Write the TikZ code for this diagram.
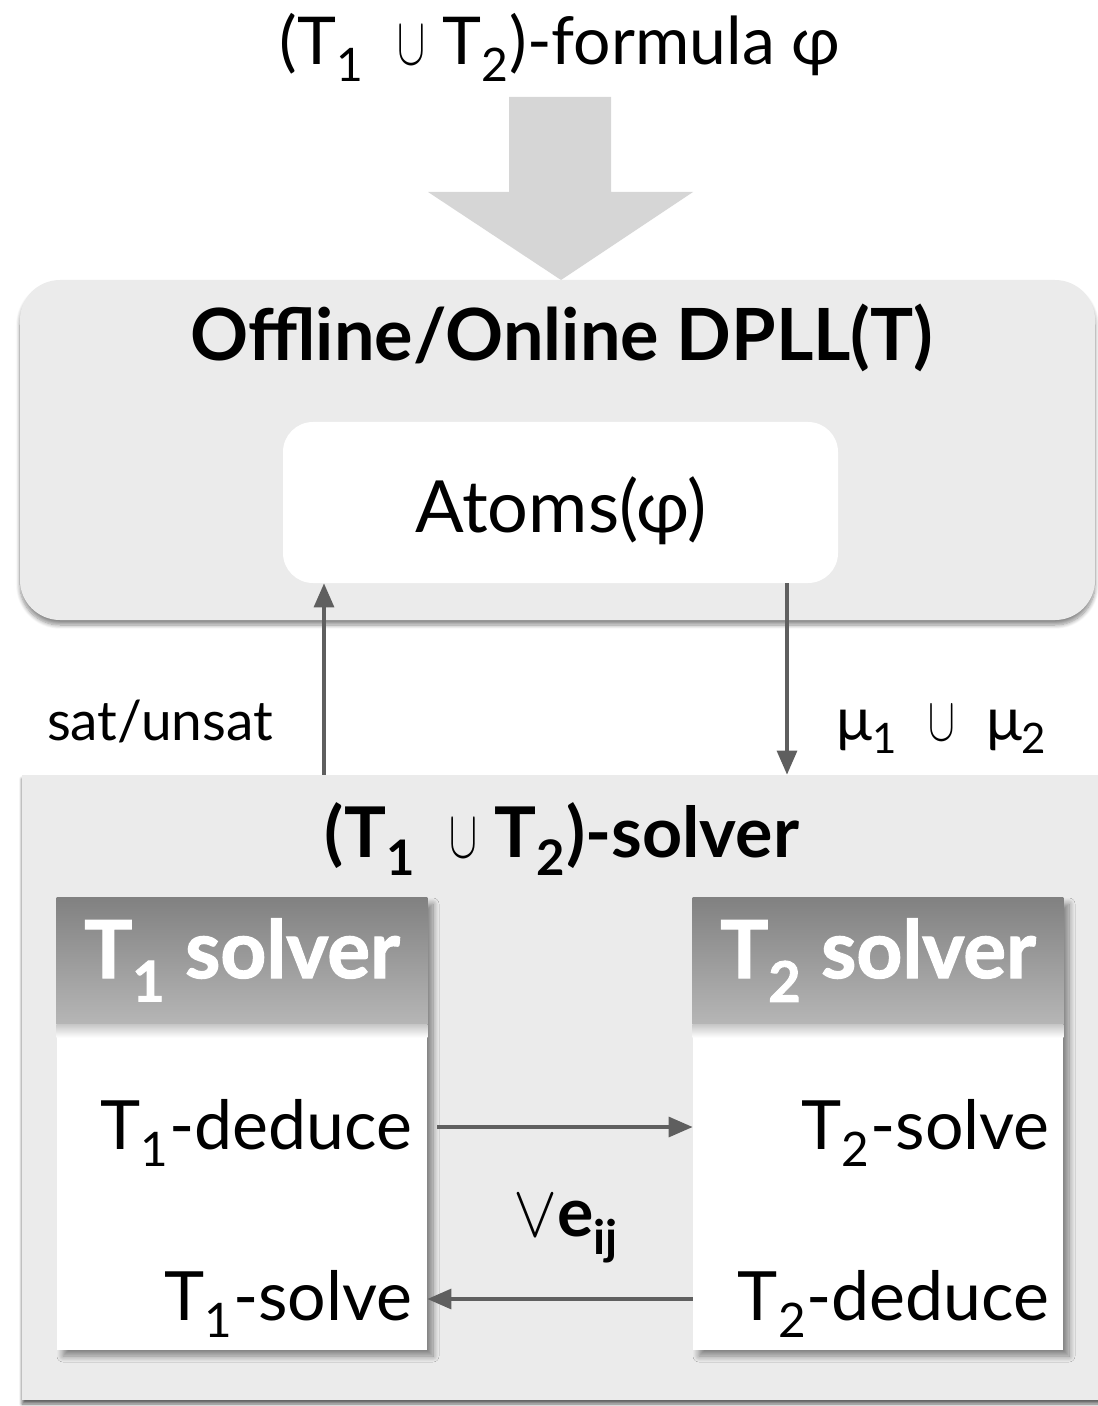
\documentclass[tikz,border=0pt]{standalone}
\usepackage{graphicx}
\usepackage{fontspec}
\setmainfont{Lato}
\usetikzlibrary{shadows,shadows.blur,arrows.meta,calc}
\definecolor{boxgray}{HTML}{EBEBEB}
\definecolor{bigarrow}{HTML}{D6D6D6}
\definecolor{conngray}{HTML}{5F5F5F}
\definecolor{headtop}{HTML}{818181}
\definecolor{headbot}{HTML}{B6B6B6}
\newcommand{\mysub}[1]{\textsubscript{#1}}
\newcommand{\fsz}[1]{\fontsize{#1}{#1}\selectfont}
\newcommand{\mycup}[2]{\scalebox{#1}[#2]{\normalsize$\cup$}}
\newcommand{\myvee}[2]{\scalebox{#1}[#2]{\normalsize$\vee$}}
\begin{document}
\begin{tikzpicture}[x=0.5pt,y=-0.5pt,
  conn/.style={draw=conngray, line width=1.6pt, -{Triangle[length=12pt,width=10pt]}},
  graybox/.style={fill=boxgray, draw=none, inner sep=0pt},
  solverbox/.style={fill=white, draw=none, minimum width=185pt, minimum height=226pt, inner sep=0pt,
     blur shadow={shadow xshift=3pt, shadow yshift=-3pt, shadow blur radius=3pt, shadow blur steps=10, shadow opacity=45}},
  txt/.style={inner sep=0pt, anchor=base},
  itemtxt/.style={inner sep=0pt, anchor=base east, font=\fsz{34}},
  headtxt/.style={inner sep=0pt, anchor=base, text=white, font=\fsz{40}\bfseries\addfontfeatures{FakeBold=1.6}},
]
\useasboundingbox (0,0) rectangle (1097,1406);

% title
\node[txt, font=\fsz{33}] (formula) at (560,65) {(T\mysub{1}\ \ \mycup{2.1}{3.4}\ T\mysub{2})-formula φ};

% big arrow
\fill[bigarrow] (509,97) -- (611,97) -- (611,192) -- (693,192) -- (561,280) -- (428,192) -- (509,192) -- cycle;

% DPLL box
\node[graybox, rounded corners=20pt, minimum width=537.5pt, minimum height=170pt,
  blur shadow={shadow xshift=0pt, shadow yshift=-2.5pt, shadow blur radius=2pt, shadow blur steps=8, shadow opacity=45}] (dpll) at (557.5,450) {};
\node[txt, font=\fsz{36}\bfseries] (dplltitle) at (562,361) {Offline/Online DPLL(T)};
\node[fill=white, draw=none, inner sep=0pt, rounded corners=15pt, minimum width=277.5pt, minimum height=80.5pt] (atoms) at (560.5,502.5) {};
\node[txt, font=\fsz{36}] (atomstext) at (561,532) {Atoms(φ)};

% solver box
\node[graybox, minimum width=549pt, minimum height=312.5pt,
  blur shadow={shadow xshift=0pt, shadow yshift=-2pt, shadow blur radius=1.5pt, shadow blur steps=6, shadow opacity=60}] (solver) at (571,1087.5) {};
\node[txt, font=\fsz{35}\bfseries] (solvertitle) at (562,857) {(T\mysub{1}\ \ \mycup{2.1}{3.4}\ T\mysub{2})-solver};

% T1 / T2 boxes
\node[solverbox] (t1) at (242,1124) {};
\node[solverbox] (t2) at (878,1124) {};
\foreach \b in {t1,t2}{
  \shade[top color=headtop, bottom color=headbot] (\b.north west) rectangle ($(\b.north east)+(0,127)$);
  \shade[top color=headbot!75!white, bottom color=white] ($(\b.north west)+(0,127)$) rectangle ($(\b.north east)+(0,140)$);
}
\node[headtxt] (t1head) at (242,978) {T\mysub{1} solver};
\node[headtxt] (t2head) at (878,978) {T\mysub{2} solver};

\node[itemtxt] (t1ded) at (413,1149) {T\mysub{1}-deduce};
\node[itemtxt] (t1sol) at (413,1320) {T\mysub{1}-solve};
\node[itemtxt] (t2sol) at (1050,1149) {T\mysub{2}-solve};
\node[itemtxt] (t2ded) at (1050,1320) {T\mysub{2}-deduce};

% connectors
\coordinate (u1) at (324,0);
\coordinate (d1) at (787,0);
\draw[conn] (u1 |- solver.north) -- (u1 |- atoms.south);
\draw[conn] (d1 |- atoms.south) -- (d1 |- solver.north);
\coordinate (r1) at (437,1127);
\draw[conn] (r1) -- (r1 -| t2.west);
\coordinate (l1) at (0,1299);
\draw[conn] (l1 -| t2.west) -- (l1 -| t1.east);

% labels
\node[txt, font=\fsz{27.5}] (satlbl) at (160,740) {sat/unsat};
\node[txt, font=\fsz{30}] (mulbl) at (942,740) {μ\mysub{1}\ \ \mycup{2}{3.1}\ \ μ\mysub{2}};
\node[txt, font=\fsz{34}] (eij) at (566,1236) {\myvee{3.3}{3.7}\textbf{e\mysub{ij}}};
\end{tikzpicture}
\end{document}
